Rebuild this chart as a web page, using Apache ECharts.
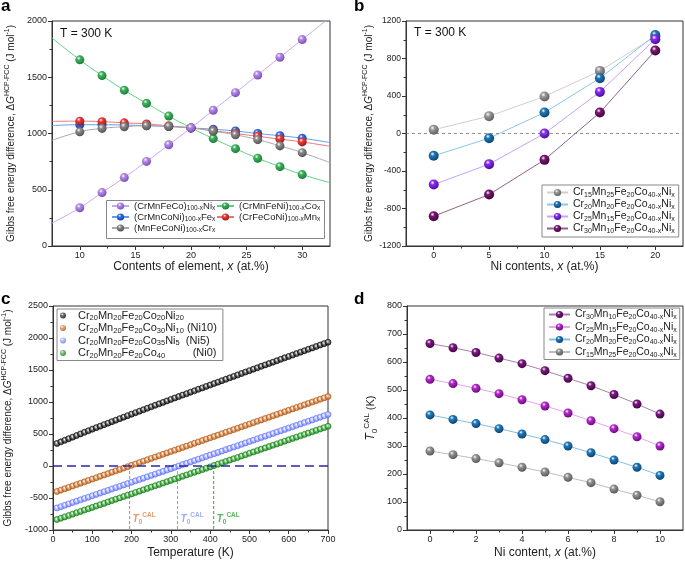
<!DOCTYPE html>
<html><head><meta charset="utf-8">
<script src="https://cdn.jsdelivr.net/npm/echarts@6/dist/echarts.min.js"></script>
<style>html,body{margin:0;padding:0;background:#fff}#c{width:685px;height:563px}</style>
</head><body><div id="c"></div>
<script>
const F = '"Liberation Sans", Arial, Helvetica, sans-serif';

// ---------- panel a ----------
const aX = [10,12,14,16,18,20,22,24,26,28,30];
const aEdgeX = [7.5, 32.5];
const aNi = [340,475,608,752,900,1050,1207,1363,1520,1678,1835];
const aNiEdge = [204,2030];
const aCo = [1655,1515,1385,1268,1155,1050,955,865,780,705,635];
const aCoEdge = [1849,563];
const aFe = [1078,1078,1075,1070,1062,1050,1038,1022,1000,980,958];
const aFeEdge = [1070,919];
const aMn = [1110,1105,1095,1085,1068,1050,1025,1000,975,950,925];
const aMnEdge = [1108,886];
const aCr = [1015,1045,1060,1068,1062,1050,1020,988,945,890,830];
const aCrEdge = [939,741];
const aNames = ['(CrMnFeCo)[100-x]Ni[x]','(CrMnFeNi)[100-x]Co[x]','(CrMnCoNi)[100-x]Fe[x]','(CrFeCoNi)[100-x]Mn[x]','(MnFeCoNi)[100-x]Cr[x]'];
const aXTicks = [10,15,20,25,30];
const aXMinor = [12.5,17.5,22.5,27.5];

// ---------- panel b ----------
const bX = [0,5,10,15,20];
const bCr15 = [40,185,395,668,1035];
const bCr20 = [-238,-50,224,590,1050];
const bCr25 = [-544,-327,0,444,1006];
const bCr30 = [-882,-651,-281,224,885];
const bNames = ['Cr[15]Mn[25]Fe[20]Co[40-x]Ni[x]','Cr[20]Mn[20]Fe[20]Co[40-x]Ni[x]','Cr[25]Mn[15]Fe[20]Co[40-x]Ni[x]','Cr[30]Mn[10]Fe[20]Co[40-x]Ni[x]'];
const bXTicks = [0,5,10,15,20];
const bXMinor = [2.5,7.5,12.5,17.5];

// ---------- panel c ----------
const cT = [10,20,30,40,50,60,70,80,90,100,110,120,130,140,150,160,170,180,190,200,
 210,220,230,240,250,260,270,280,290,300,310,320,330,340,350,360,370,380,390,400,
 410,420,430,440,450,460,470,480,490,500,510,520,530,540,550,560,570,580,590,600,
 610,620,630,640,650,660,670,680,690,700];
const cNi20 = [352,377,402,427,451,476,501,526,550,575,599,622,646,669,693,716,740,763,787,810,
 833,856,879,902,925,948,971,994,1017,1040,1063,1085,1108,1130,1153,1175,1198,1220,1243,1265,
 1288,1310,1333,1355,1378,1400,1423,1445,1468,1490,1512,1534,1557,1579,1601,1623,1645,1668,1690,1712,
 1734,1756,1779,1801,1823,1845,1867,1890,1912,1934];
const cNi10 = [-398,-377,-355,-334,-312,-291,-269,-248,-226,-205,-183,-162,-140,-119,-97,-76,-54,-33,-11,10,
 32,53,75,96,118,139,161,182,204,225,247,268,290,311,333,354,376,397,419,440,
 462,483,505,526,548,569,591,612,634,655,677,698,720,741,763,784,806,827,849,870,
 892,913,935,956,978,999,1021,1042,1064,1085];
const cNi5 = [-656,-635,-614,-592,-571,-550,-529,-508,-487,-465,-444,-423,-402,-381,-359,-338,-317,-296,-275,-254,
 -232,-211,-190,-169,-148,-127,-105,-84,-63,-42,-21,0,22,43,64,85,106,127,149,170,
 191,212,233,255,276,297,318,339,360,382,403,424,445,466,487,509,530,551,572,593,
 614,636,657,678,699,720,742,763,784,805];
const cNi0 = [-837,-816,-795,-774,-752,-731,-710,-689,-668,-647,-626,-605,-584,-562,-541,-520,-499,-478,-457,-436,
 -415,-394,-372,-351,-330,-309,-288,-267,-246,-225,-204,-182,-161,-140,-119,-98,-77,-56,-35,-14,
 8,29,50,71,92,113,134,155,176,198,219,240,261,282,303,324,345,366,388,409,
 430,451,472,493,514,535,556,578,599,620];
const cNames = ['Cr[20]Mn[20]Fe[20]Co[20]Ni[20]','Cr[20]Mn[20]Fe[20]Co[30]Ni[10] (Ni10)','Cr[20]Mn[20]Fe[20]Co[35]Ni[5]  (Ni5)','Cr[20]Mn[20]Fe[20]Co[40]         (Ni0)'];
const cT0 = [195, 317, 409];
const cT0LabelY = -830;
const cT0LineY = [0, -1000];

// ---------- panel d ----------
const dX = [0,1,2,3,4,5,6,7,8,9,10];
const dCr30 = [666,651,634,614,594,569,542,515,484,450,414];
const dCr25 = [538,523,506,487,465,443,418,390,362,333,300];
const dCr20 = [411,395,380,362,343,323,300,276,250,224,195];
const dCr15 = [282,269,255,240,224,207,188,169,146,124,101];
const dNames = ['Cr[30]Mn[10]Fe[20]Co[40-x]Ni[x]\u200b','Cr[25]Mn[15]Fe[20]Co[40-x]Ni[x]\u200b','Cr[20]Mn[20]Fe[20]Co[40-x]Ni[x]\u200b','Cr[15]Mn[25]Fe[20]Co[40-x]Ni[x]\u200b'];
const dXTicks = [0,2,4,6,8,10];
const dXMinor = [1,3,5,7,9];

// ---------- helpers ----------
function richName(name){
  let out='';
  name.split(/(\[[^\]]+\])/).forEach(p=>{ if(!p) return; if(p[0]==='[') out+='{s|'+p.slice(1,-1)+'}'; else out+='{n|'+p+'}'; });
  return out;
}
function legRich(fs, sfs, lh){
  return { n:{fontFamily:F,fontSize:fs,lineHeight:lh,color:'#222'}, s:{fontFamily:F,fontSize:sfs,color:'#222',verticalAlign:'bottom'} };
}
function ball(c, d){
  return {type:'radial', x:0.38, y:0.32, r:0.7, colorStops:[{offset:0,color:'#ffffff'},{offset:0.3,color:c},{offset:1,color:d}]};
}
function ring(c, l){
  return {type:'radial', x:0.45, y:0.4, r:0.6, colorStops:[{offset:0,color:'#ffffff'},{offset:0.45,color:l},{offset:1,color:c}]};
}
const yTitleRich = {
  n:{fontFamily:F,fontSize:10,lineHeight:14,color:'#222'},
  i:{fontFamily:F,fontSize:10,lineHeight:14,fontStyle:'italic',color:'#222'},
  p:{fontFamily:F,fontSize:7,color:'#222',verticalAlign:'top'}
};
const yTitle = '{n|Gibbs free energy difference, Δ}{i|G}{p|HCP-FCC}{n| (J mol}{p|-1}{n|)}';
const xNameRich = {
  n:{fontFamily:F,fontSize:12,color:'#222'},
  i:{fontFamily:F,fontSize:12,fontStyle:'italic',color:'#222'}
};
const axLine = {show:true, onZero:false, lineStyle:{color:'#333',width:1}};
const plain = v => String(v);
function valAxis(o){
  const base = {
    type:'value', axisLine:axLine,
    axisTick:{show:true, inside:false, length:4, lineStyle:{color:'#333'}},
    minorTick:{show:true, splitNumber:2, length:2.5, lineStyle:{color:'#333'}},
    axisLabel:{color:'#222', fontSize:9, fontFamily:F, margin:5, formatter:plain},
    splitLine:{show:false}, nameLocation:'middle'
  };
  for (const k in o) {
    if (o[k] && typeof o[k]==='object' && !Array.isArray(o[k]) && base[k] && typeof base[k]==='object') base[k] = Object.assign({}, base[k], o[k]);
    else base[k] = o[k];
  }
  return base;
}
function minorAxis(gi, min, max, vals){
  return {type:'value', gridIndex:gi, min:min, max:max, position:'bottom',
    axisLine:{show:false}, axisLabel:{show:false}, splitLine:{show:false},
    axisTick:{show:true, length:2.5, customValues:vals, lineStyle:{color:'#333'}}};
}

const gA = {left:52, top:21, width:278, height:225};
const gB = {left:406, top:21, width:277, height:225};
const gC = {left:52, top:306, width:276, height:224};
const gD = {left:407, top:306, width:276, height:224};
const frame = {show:true, borderColor:'#333', borderWidth:1, backgroundColor:'transparent'};

const series = [];
// panel a series
const aCols = [['#b48ae6','#7a4fb8','#c9a6f0'],['#3fb35f','#1d7a37','#5ccf80'],['#2f6fe0','#1a3f99','#5b9cf5'],['#ea3b3b','#a01818','#f07272'],['#8c8c8c','#505050','#a8a8a8']];
[[aNi,aNiEdge],[aCo,aCoEdge],[aFe,aFeEdge],[aMn,aMnEdge],[aCr,aCrEdge]].forEach((p,i)=>{
  const data = [{value:[aEdgeX[0],p[1][0]], symbol:'none'}].concat(aX.map((x,j)=>[x,p[0][j]])).concat([{value:[aEdgeX[1],p[1][1]], symbol:'none'}]);
  series.push({type:'line', name:aNames[i], xAxisIndex:0, yAxisIndex:0, data:data, smooth:true, symbol:'circle', symbolSize:9, showAllSymbol:true,
    itemStyle:{color:ball(aCols[i][0],aCols[i][1])}, lineStyle:{color:aCols[i][2], width:1}, z:2+ (i===0?1:0)});
});
// panel b
const bCols = [['#9c9c9c','#5a5a5a','#cfcfcf'],['#1f78b8','#0c4270','#8cc6ea'],['#8a2ef0','#4c0a9a','#c8a2f5'],['#7c1672','#3e053a','#906090']];
[bCr15,bCr20,bCr25,bCr30].forEach((arr,i)=>{
  const s = {type:'line', name:bNames[i], xAxisIndex:1, yAxisIndex:1, data:bX.map((x,j)=>[x,arr[j]]), symbol:'circle', symbolSize:10,
    itemStyle:{color:ball(bCols[i][0],bCols[i][1])}, lineStyle:{color:bCols[i][2], width:1}};
  if (i===0) s.markLine = {silent:true, symbol:['none','none'], label:{show:false}, lineStyle:{color:'#777', type:[3,3], width:0.8}, data:[{yAxis:0}]};
  series.push(s);
});
// panel c: T0 guide lines (drawn first, under markers)
const t0Cols = ['#d9823f','#8596ff','#2fa32f'];
cT0.forEach((t,i)=>{
  series.push({type:'line', name:'t0line_'+i, xAxisIndex:2, yAxisIndex:2, symbol:'none', silent:true, z:1,
    data:cT0LineY.map(y=>[t,y]), lineStyle:{color:t0Cols[i], type:[3,2], width:1}});
  series.push({type:'scatter', name:'t0_'+i, xAxisIndex:2, yAxisIndex:2, symbolSize:0, data:[[t,cT0LabelY]], silent:true,
    itemStyle:{color:t0Cols[i]},
    label:{show:true, position:'right', distance:3, formatter:'{t|T}{b|0}{p|CAL}',
      rich:{t:{fontFamily:F,fontSize:10,fontWeight:'bold',fontStyle:'italic',color:t0Cols[i],lineHeight:14},
            b:{fontFamily:F,fontSize:6.5,fontWeight:'bold',color:t0Cols[i],verticalAlign:'bottom'},
            p:{fontFamily:F,fontSize:6.5,fontWeight:'bold',color:t0Cols[i],verticalAlign:'top'}}}});
});
const cCols = [['#000000','#555555'],['#b0500e','#e09a60'],['#5a6cff','#b0baff'],['#0e7a0e','#5cba5c']];
[cNi20,cNi10,cNi5,cNi0].forEach((arr,i)=>{
  const s = {type:'scatter', name:cNames[i], xAxisIndex:2, yAxisIndex:2, data:cT.map((t,j)=>[t,arr[j]]), symbol:'circle', symbolSize:6,
    itemStyle:{color:ring(cCols[i][0],cCols[i][1]), borderColor:cCols[i][0], borderWidth:0.8}};
  if (i===0) s.markLine = {silent:true, symbol:['none','none'], label:{show:false}, z:5, lineStyle:{color:'#2828a8', type:[9,5], width:1.5}, data:[{yAxis:0}]};
  series.push(s);
});
// panel d
const dCols = [['#7c1a82','#3e0642','#a881a8'],['#b52ccc','#6a0a7a','#e6a3ef'],['#1f7ab8','#0c4270','#86bde3'],['#939393','#555555','#bdbdbd']];
[dCr30,dCr25,dCr20,dCr15].forEach((arr,i)=>{
  series.push({type:'line', name:dNames[i], xAxisIndex:3, yAxisIndex:3, data:dX.map((x,j)=>[x,arr[j]]), symbol:'circle', symbolSize:9,
    itemStyle:{color:ball(dCols[i][0],dCols[i][1])}, lineStyle:{color:dCols[i][2], width:1}});
});

const cLegendData = cNames.map((n,i)=>({name:n, icon:'circle', itemStyle:{color:ball(cCols[i][1],cCols[i][0]), borderWidth:0}}));

const option = {
  animation:false,
  textStyle:{fontFamily:F},
  grid:[Object.assign({},gA,frame),Object.assign({},gB,frame),Object.assign({},gC,frame),Object.assign({},gD,frame),
        Object.assign({},gA,{show:false}),Object.assign({},gB,{show:false}),Object.assign({},gD,{show:false})],
  xAxis:[
    valAxis({gridIndex:0, min:7.5, max:32.5, minorTick:{show:false}, axisTick:{customValues:aXTicks}, axisLabel:{customValues:aXTicks},
      name:'{n|Contents of element, }{i|x}{n| (at.%)}', nameGap:10, nameTextStyle:{rich:xNameRich}}),
    valAxis({gridIndex:1, min:-2.5, max:22.5, minorTick:{show:false}, axisTick:{customValues:bXTicks}, axisLabel:{customValues:bXTicks},
      name:'{n|Ni contents, }{i|x}{n| (at.%)}', nameGap:10, nameTextStyle:{rich:xNameRich}}),
    valAxis({gridIndex:2, min:0, max:700, interval:100,
      name:'{n|Temperature (K)}', nameGap:17, nameTextStyle:{rich:xNameRich}}),
    valAxis({gridIndex:3, min:-1, max:11, minorTick:{show:false}, axisTick:{customValues:dXTicks}, axisLabel:{customValues:dXTicks},
      name:'{n|Ni content, }{i|x}{n| (at.%)}', nameGap:17, nameTextStyle:{rich:xNameRich}}),
    minorAxis(4, 7.5, 32.5, aXMinor),
    minorAxis(5, -2.5, 22.5, bXMinor),
    minorAxis(6, -1, 11, dXMinor)
  ],
  yAxis:[
    valAxis({gridIndex:0, min:0, max:2000, interval:500, name:yTitle, nameGap:34, nameTextStyle:{rich:yTitleRich}}),
    valAxis({gridIndex:1, min:-1200, max:1200, interval:400, axisLabel:{fontSize:8.5}, name:yTitle, nameGap:30, nameTextStyle:{rich:yTitleRich}}),
    valAxis({gridIndex:2, min:-1000, max:2500, interval:500, name:yTitle, nameGap:38, nameTextStyle:{rich:yTitleRich}}),
    valAxis({gridIndex:3, min:0, max:800, interval:100, name:'{i|T}{b|0}{p|CAL}{n| (K)}', nameGap:28,
      nameTextStyle:{rich:{i:{fontFamily:F,fontSize:12,fontStyle:'italic',lineHeight:16,color:'#222'},
        b:{fontFamily:F,fontSize:8,color:'#222',verticalAlign:'bottom'},
        p:{fontFamily:F,fontSize:8,color:'#222',verticalAlign:'top'},
        n:{fontFamily:F,fontSize:11,lineHeight:16,color:'#222'}}}}),
    {type:'value', gridIndex:4, show:false, min:0, max:1},
    {type:'value', gridIndex:5, show:false, min:0, max:1},
    {type:'value', gridIndex:6, show:false, min:0, max:1}
  ],
  legend:[
    {data:[aNames[0],aNames[2],aNames[4]], orient:'vertical', left:111, top:201, padding:0, itemWidth:17, itemHeight:9, itemGap:0,
      formatter:richName, textStyle:{rich:legRich(9.5,6.5,12)}},
    {data:[aNames[1],aNames[3]], orient:'vertical', left:216, top:201, padding:0, itemWidth:17, itemHeight:9, itemGap:0,
      formatter:richName, textStyle:{rich:legRich(9.5,6.5,12)}},
    {data:bNames, orient:'vertical', left:542, top:185, padding:[2,4,2,4], itemWidth:21, itemHeight:9, itemGap:0,
      borderColor:'#888', borderWidth:1, backgroundColor:'#fff', formatter:richName, textStyle:{rich:legRich(10.5,7,13)}},
    {data:cLegendData, orient:'vertical', left:57, top:309, padding:[1,6,1,3], itemWidth:20, itemHeight:6, itemGap:0.5,
      borderColor:'#888', borderWidth:1, backgroundColor:'#fff', formatter:richName, textStyle:{rich:legRich(11,7.5,13)}},
    {data:dNames, orient:'vertical', left:544, top:308, padding:[1,3,1,4], itemWidth:21, itemHeight:9, itemGap:0.5,
      borderColor:'#888', borderWidth:1, backgroundColor:'#fff', formatter:richName, textStyle:{rich:legRich(10.5,7,13)}}
  ],
  graphic:[
    {type:'rect', z:3, shape:{x:106.5, y:200.5, width:218, height:38}, style:{fill:'#fff', stroke:'#888', lineWidth:1}},
    {type:'text', x:1, y:6, style:{text:'a', font:'bold 17px '+F, fill:'#000', verticalAlign:'middle'}},
    {type:'text', x:354, y:6, style:{text:'b', font:'bold 17px '+F, fill:'#000', verticalAlign:'middle'}},
    {type:'text', x:1, y:299, style:{text:'c', font:'bold 17px '+F, fill:'#000', verticalAlign:'middle'}},
    {type:'text', x:354, y:299, style:{text:'d', font:'bold 17px '+F, fill:'#000', verticalAlign:'middle'}},
    {type:'text', x:60, y:34, style:{text:'T = 300 K', font:'12px '+F, fill:'#111', verticalAlign:'middle'}},
    {type:'text', x:414, y:33, style:{text:'T = 300 K', font:'12px '+F, fill:'#111', verticalAlign:'middle'}}
  ],
  series:series
};
const chart = echarts.init(document.getElementById('c'), null, {renderer:'canvas'});
chart.setOption(option);
</script>
</body></html>
